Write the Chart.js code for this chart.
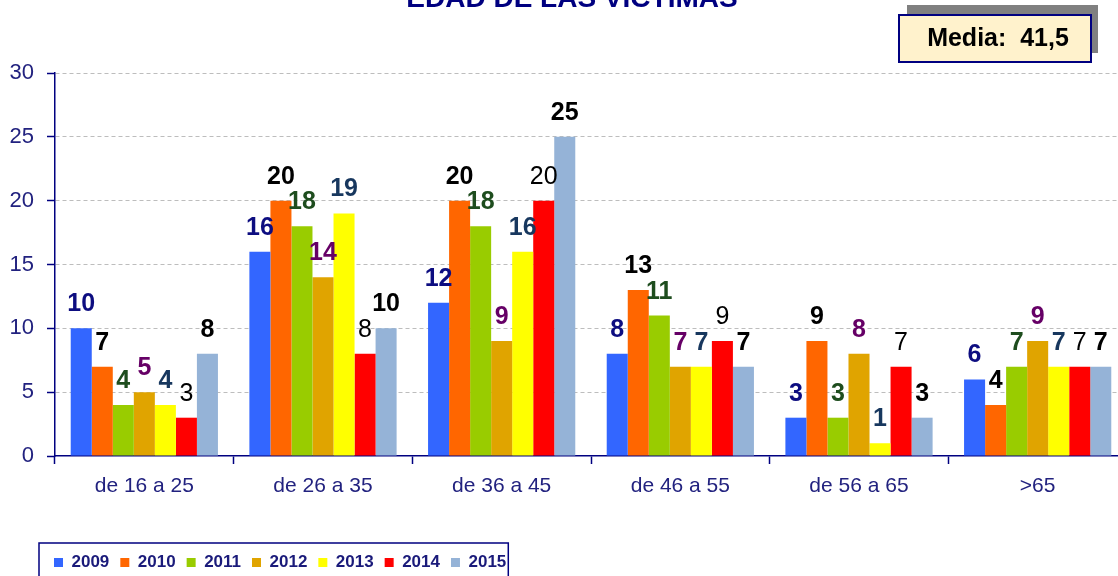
<!DOCTYPE html>
<html>
<head>
<meta charset="utf-8">
<script src="https://cdn.jsdelivr.net/npm/chart.js@4.4.1/dist/chart.umd.min.js"></script>
<style>
html,body{margin:0;padding:0;overflow:hidden;background:#fff;width:1118px;height:576px;}
canvas{display:block;}
</style>
</head>
<body>
<canvas id="c" width="1127" height="581"></canvas>
<script>
const categories = ['de 16 a 25', 'de 26 a 35', 'de 36 a 45', 'de 46 a 55', 'de 56 a 65', '>65'];
const seriesNames = ['2009', '2010', '2011', '2012', '2013', '2014', '2015'];
const v2009 = [10, 16, 12, 8, 3, 6];
const v2010 = [7, 20, 20, 13, 9, 4];
const v2011 = [4, 18, 18, 11, 3, 7];
const v2012 = [5, 14, 9, 7, 8, 9];
const v2013 = [4, 19, 16, 7, 1, 7];
const v2014 = [3, 8, 20, 9, 7, 7];
const v2015 = [8, 10, 25, 7, 3, 7];
const yTicks = [0, 5, 10, 15, 20, 25, 30];
const titleText = 'EDAD DE LAS VICTIMAS';
const mediaText = 'Media:  41,5';

const seriesValues = [v2009, v2010, v2011, v2012, v2013, v2014, v2015];
const barColors = ['#3366FF', '#FF6600', '#99CC00', '#E0A400', '#FFFF00', '#FF0000', '#95B3D7'];
const labelColors = ['#0D0D80', '#000000', '#1E4D1E', '#660066', '#17375E', '#000000', '#000000'];
const labelWeights = ['bold', 'bold', 'bold', 'bold', 'bold', 'normal', 'bold'];
const NAVY = '#000080';
const AXIS_TEXT = '#22227F';
const FONT = '"Liberation Sans", Arial, sans-serif';

const decorPlugin = {
  id: 'decor',
  afterLayout(chart) {
    const lg = chart.legend;
    if (lg) {
      lg.left = 43;
      lg.right = chart.width;
    }
  },
  afterDatasetsDraw(chart) {
    const ctx = chart.ctx;
    ctx.save();
    ctx.textAlign = 'center';
    ctx.textBaseline = 'alphabetic';
    chart.data.datasets.forEach((ds, i) => {
      const meta = chart.getDatasetMeta(i);
      ctx.font = labelWeights[i] + ' 25px ' + FONT;
      ctx.fillStyle = labelColors[i];
      meta.data.forEach((bar, j) => {
        ctx.fillText(String(ds.data[j]), bar.x, bar.y - 17);
      });
    });
    ctx.restore();
  },
  afterDraw(chart) {
    const ctx = chart.ctx;
    ctx.save();
    ctx.font = 'bold 28px ' + FONT;
    ctx.fillStyle = NAVY;
    ctx.textAlign = 'center';
    ctx.textBaseline = 'alphabetic';
    ctx.fillText(titleText, 572, 7);
    ctx.fillStyle = '#808080';
    ctx.fillRect(907, 5, 191, 48);
    ctx.fillStyle = '#FFF2CC';
    ctx.fillRect(899, 15, 192, 47);
    ctx.strokeStyle = NAVY;
    ctx.lineWidth = 2;
    ctx.strokeRect(899, 15, 192, 47);
    ctx.fillStyle = '#000000';
    ctx.font = 'bold 25px ' + FONT;
    ctx.textBaseline = 'middle';
    ctx.fillText(mediaText, 998, 39);
    const lg = chart.legend;
    if (lg && lg.legendHitBoxes && lg.legendHitBoxes.length) {
      const hb = lg.legendHitBoxes;
      const first = hb[0], last = hb[hb.length - 1];
      const left = first.left - 15;
      const right = last.left + last.width + 2;
      const top = first.top - 11;
      ctx.strokeStyle = NAVY;
      ctx.lineWidth = 1.5;
      ctx.strokeRect(left, top, right - left, chart.height - top + 10);
    }
    ctx.restore();
  }
};

const chart = new Chart(document.getElementById('c'), {
  type: 'bar',
  data: {
    labels: categories,
    datasets: seriesNames.map((name, i) => ({
      label: name,
      data: seriesValues[i],
      backgroundColor: barColors[i],
      borderWidth: 0,
      categoryPercentage: 0.824,
      barPercentage: 1.0
    }))
  },
  options: {
    responsive: false,
    devicePixelRatio: 1,
    animation: false,
    layout: { padding: { top: 73, left: 0, right: 0, bottom: 0 } },
    plugins: {
      title: { display: false },
      tooltip: { enabled: false },
      legend: {
        display: true,
        position: 'bottom',
        align: 'start',
        labels: {
          boxWidth: 9,
          boxHeight: 9,
          padding: 11,
          color: '#1A1A7A',
          font: { family: FONT, size: 17, weight: 'bold' }
        }
      }
    },
    scales: {
      x: {
        offset: true,
        grid: {
          display: true,
          drawOnChartArea: false,
          drawTicks: true,
          offset: true,
          tickLength: 8,
          tickColor: NAVY,
          tickWidth: 1.5
        },
        border: { display: true, color: NAVY, width: 1.5 },
        ticks: {
          color: AXIS_TEXT,
          padding: 10,
          maxRotation: 0,
          autoSkip: false,
          font: { family: FONT, size: 21 }
        },
        afterFit(scale) {
          const lh = (scale.chart.legend && scale.chart.legend.height) ? scale.chart.legend.height : 38;
          scale.height = scale.chart.height - lh - 456;
        }
      },
      y: {
        min: yTicks[0],
        max: yTicks[yTicks.length - 1],
        grid: {
          color: (ctx) => (ctx.tick && ctx.tick.value === 0) ? 'rgba(0,0,0,0)' : '#BDBDBD',
          lineWidth: 1,
          tickLength: 8,
          tickColor: NAVY,
          tickWidth: 1.5
        },
        border: { display: true, color: NAVY, width: 1.5, dash: [4, 3] },
        ticks: {
          stepSize: yTicks[1] - yTicks[0],
          autoSkip: false,
          color: AXIS_TEXT,
          padding: 13,
          font: { family: FONT, size: 22 }
        },
        afterFit(scale) {
          scale.width = 55;
        }
      }
    }
  },
  plugins: [decorPlugin]
});
</script>
</body>
</html>
